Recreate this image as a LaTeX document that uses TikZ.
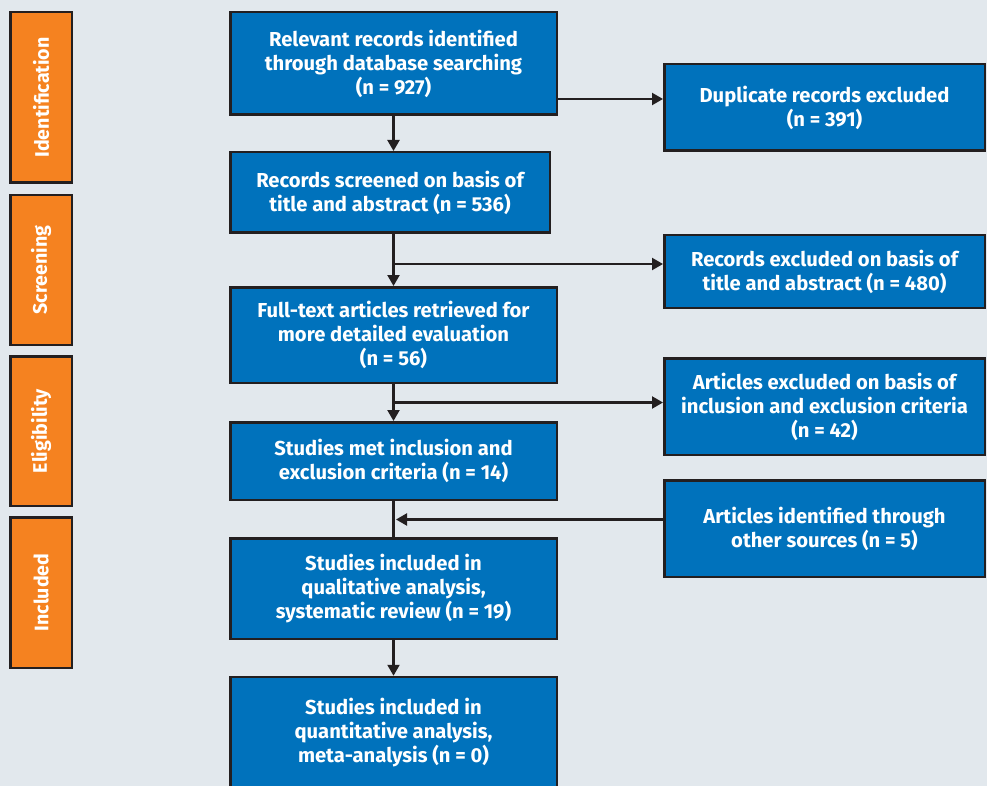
\documentclass[tikz,border=0pt]{standalone}
\usepackage{fontspec}
\setmainfont{Fira Sans}
\usetikzlibrary{arrows.meta}
\definecolor{bgcol}{HTML}{E2E8ED}
\definecolor{boxblue}{HTML}{0072BC}
\definecolor{phaseorange}{HTML}{F58220}
\definecolor{edgecol}{HTML}{231F20}
\begin{document}
\begin{tikzpicture}[x=1pt, y=-1pt, >={Triangle[length=11pt,width=12pt]},
	font=\bfseries\fontsize{20.2}{24}\selectfont,
	box/.style={draw=edgecol, line width=2.5pt, fill=boxblue, text=white, align=center, inner sep=0pt},
	phase/.style={draw=edgecol, line width=2.5pt, fill=phaseorange, text=white, rotate=90, inner sep=0pt,
		minimum height=61.5pt, font=\bfseries\fontsize{19.6}{20}\selectfont},
	link/.style={draw=edgecol, line width=2.2pt}]
	\def\mainw{326.5pt}
	\def\sidew{320.5pt}
	\useasboundingbox (0,0) rectangle (987,786);
	\fill[bgcol] (0,0) rectangle (987,786);
	% phases
	\node[phase, minimum width=170.5pt] (ident) at (41,97.5) {Identification};
	\node[phase, minimum width=149.5pt] (screening) at (41,270) {Screening};
	\node[phase, minimum width=149.5pt] (elig) at (41,431) {Eligibility};
	\node[phase, minimum width=150.5pt] (included) at (41,592.5) {Included};
	% main column
	\node[box, minimum width=\mainw, minimum height=102.5pt] (rec) at (393.5,63.5) {Relevant records identified\\through database searching\\(n = 927)};
	\node[box, minimum width=319.5pt, minimum height=80.5pt] (screen) at (390,192.5) {Records screened on basis of\\title and abstract (n = 536)};
	\node[box, minimum width=\mainw, minimum height=95.5pt] (full) at (393.5,335) {Full-text articles retrieved for\\more detailed evaluation\\(n = 56)};
	\node[box, minimum width=\mainw, minimum height=77.5pt] (met) at (393.5,461) {Studies met inclusion and\\exclusion criteria (n = 14)};
	\node[box, minimum width=\mainw, minimum height=100.5pt] (qual) at (393.5,588.5) {Studies included in\\qualitative analysis,\\systematic review (n = 19)};
	\node[box, minimum width=\mainw, minimum height=112pt] (quant) at (393.5,733) {Studies included in\\quantitative analysis,\\meta-analysis (n = 0)};
	% side column
	\node[box, minimum width=\sidew, minimum height=86.5pt] (dup) at (824.5,107.5) {Duplicate records excluded\\(n = 391)};
	\node[box, minimum width=\sidew, minimum height=72.5pt] (tiab) at (824.5,271.5) {Records excluded on basis of\\title and abstract (n = 480)};
	\node[box, minimum width=\sidew, minimum height=96.5pt] (crit) at (824.5,406.5) {Articles excluded on basis of\\inclusion and exclusion criteria\\(n = 42)};
	\node[box, minimum width=\sidew, minimum height=96.5pt] (other) at (824.5,528.5) {Articles identified through\\other sources (n = 5)};
	% connectors
	\coordinate (dupy) at (393.5,99);
	\coordinate (tiaby) at (393.5,264);
	\coordinate (crity) at (393.5,402.5);
	\coordinate (othery) at (396,519.5);
	\draw[link,->] (rec.south) -- (rec.south |- screen.north);
	\draw[link,->] (dupy -| rec.east) -- (dupy -| dup.west);
	\draw[link,->] (rec.south |- screen.south) -- (rec.south |- full.north);
	\draw[link,->] (tiaby) -- (tiaby -| tiab.west);
	\draw[link,->] (full.south) -- (met.north);
	\draw[link,->] (crity) -- (crity -| crit.west);
	\draw[link] (met.south) -- (qual.north);
	\draw[link,->] (othery -| other.west) -- (othery);
	\draw[link,->] (qual.south) -- (quant.north);
\end{tikzpicture}
\end{document}
